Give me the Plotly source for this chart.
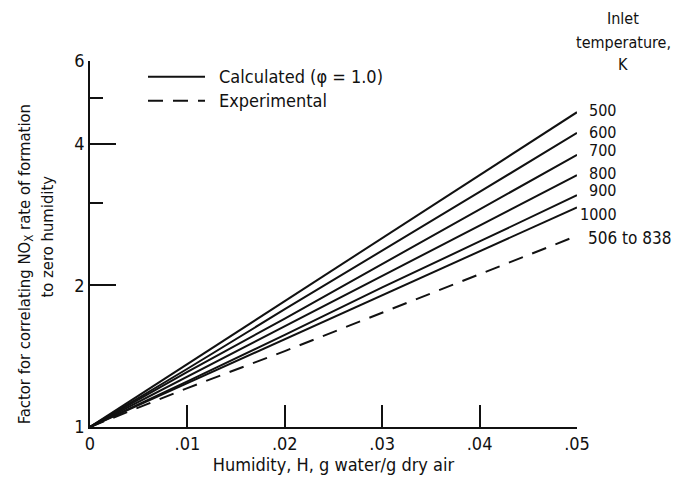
import numpy as np
import plotly.graph_objects as go

# ---- data ----
humidity = [0.0, 0.01, 0.02, 0.03, 0.04, 0.05]
temps = ["500", "600", "700", "800", "900", "1000"]
calc_500 = [1.0, 1.36, 1.85, 2.52, 3.43, 4.67]
calc_600 = [1.0, 1.33, 1.78, 2.37, 3.16, 4.22]
calc_700 = [1.0, 1.31, 1.70, 2.22, 2.90, 3.79]
calc_800 = [1.0, 1.28, 1.64, 2.10, 2.68, 3.43]
calc_900 = [1.0, 1.25, 1.57, 1.98, 2.48, 3.11]
calc_1000 = [1.0, 1.24, 1.54, 1.91, 2.37, 2.93]
experimental = [1.0, 1.21, 1.45, 1.75, 2.11, 2.55]
exp_label = "506 to 838"

x_tickvals = [0, 0.01, 0.02, 0.03, 0.04, 0.05]
x_ticktext = ["0", ".01", ".02", ".03", ".04", ".05"]
y_tickvals = [1, 2, 4, 6]
y_minor = [3, 5]

FONT = "Liberation Sans Narrow, DejaVu Sans Condensed, Arial Narrow, sans-serif"
BLACK = "#111111"

# page has an 8px body margin: lay out in page pixels, then convert
OFF = 8
L, T, PW, PH = 90 - OFF, 61 - OFF, 487, 369
W, H = 682 - OFF, 483 - OFF


def px(xp):
    return (xp - OFF - L) / PW


def py(yp):
    return (T + PH - (yp - OFF)) / PH


calc_series = [calc_500, calc_600, calc_700, calc_800, calc_900, calc_1000]

fig = go.Figure()
for name, vals in zip(temps, calc_series):
    fig.add_trace(go.Scatter(x=humidity, y=vals, mode="lines", name=name,
                             line=dict(color=BLACK, width=2), showlegend=False))
fig.add_trace(go.Scatter(x=humidity, y=experimental, mode="lines", name=exp_label,
                         line=dict(color=BLACK, width=2, dash="15px,10px"), showlegend=False))

# right-hand labels at line ends
label_shift = {"500": (10, 2), "600": (10, 0), "700": (10, 4), "800": (10, 2),
               "900": (10, 5), "1000": (1, -7)}
for name, vals in zip(temps, calc_series):
    xs, ys = label_shift[name]
    fig.add_annotation(x=humidity[-1], y=np.log10(vals[-1]), text=name, showarrow=False,
                       xanchor="left", yanchor="middle", xshift=xs, yshift=ys,
                       font=dict(family=FONT, size=16, color=BLACK))
fig.add_annotation(x=humidity[-1], y=np.log10(experimental[-1]), text=exp_label, showarrow=False,
                   xanchor="left", yanchor="middle", xshift=9, yshift=-2,
                   font=dict(family=FONT, size=17, color=BLACK))

# header of the labels
for txt, ypx in [("Inlet", 18), ("temperature,", 42), ("K", 65)]:
    fig.add_annotation(xref="paper", yref="paper", x=px(623), y=py(ypx),
                       text=txt, showarrow=False, xanchor="center", yanchor="middle",
                       font=dict(family=FONT, size=16, color=BLACK))

# legend
legend_rows = [("Calculated (φ = 1.0)", 77, "solid"), ("Experimental", 101, "15px,10px")]
for txt, ypx, dash in legend_rows:
    yp = py(ypx)
    fig.add_shape(type="line", xref="paper", yref="paper",
                  x0=px(148), x1=px(205), y0=yp, y1=yp,
                  line=dict(color=BLACK, width=2, dash=dash))
    fig.add_annotation(xref="paper", yref="paper", x=px(217), y=yp, text=txt,
                       showarrow=False, xanchor="left", yanchor="middle",
                       font=dict(family=FONT, size=18, color=BLACK))

# y-axis title (two lines)
fig.add_annotation(xref="paper", yref="paper", x=px(25), y=py(266),
                   text="Factor for correlating NO<sub>X</sub> rate of formation",
                   textangle=-90, showarrow=False, xanchor="center", yanchor="middle",
                   font=dict(family=FONT, size=16.5, color=BLACK))
fig.add_annotation(xref="paper", yref="paper", x=px(48), y=py(238),
                   text="to zero humidity",
                   textangle=-90, showarrow=False, xanchor="center", yanchor="middle",
                   font=dict(family=FONT, size=16.5, color=BLACK))

fig.update_layout(
    width=W, height=H,
    margin=dict(l=L, r=W - L - PW, t=T, b=H - T - PH),
    paper_bgcolor="white", plot_bgcolor="white",
    font=dict(family=FONT, size=18, color=BLACK),
    xaxis=dict(range=[0, 0.05], tickmode="array", tickvals=x_tickvals, ticktext=x_ticktext,
               ticks="inside", ticklen=22, tickwidth=1.5, tickcolor=BLACK,
               showline=True, linecolor=BLACK, linewidth=1.5, showgrid=False, zeroline=False,
               tickfont=dict(family=FONT, size=18, color=BLACK),
               title=dict(text="Humidity, H, g water/g dry air", standoff=4,
                          font=dict(family=FONT, size=18, color=BLACK))),
    yaxis=dict(type="log", range=[0, np.log10(6)], tickmode="array", tickvals=y_tickvals,
               ticktext=[str(v) for v in y_tickvals],
               ticks="inside", ticklen=26, tickwidth=1.5, tickcolor=BLACK,
               minor=dict(tickmode="array", tickvals=y_minor, ticks="inside", ticklen=13,
                          tickwidth=1.5, tickcolor=BLACK, showgrid=False),
               showline=True, linecolor=BLACK, linewidth=1.5, showgrid=False, zeroline=False,
               tickfont=dict(family=FONT, size=18, color=BLACK)),
)

fig.write_html("out.html")
